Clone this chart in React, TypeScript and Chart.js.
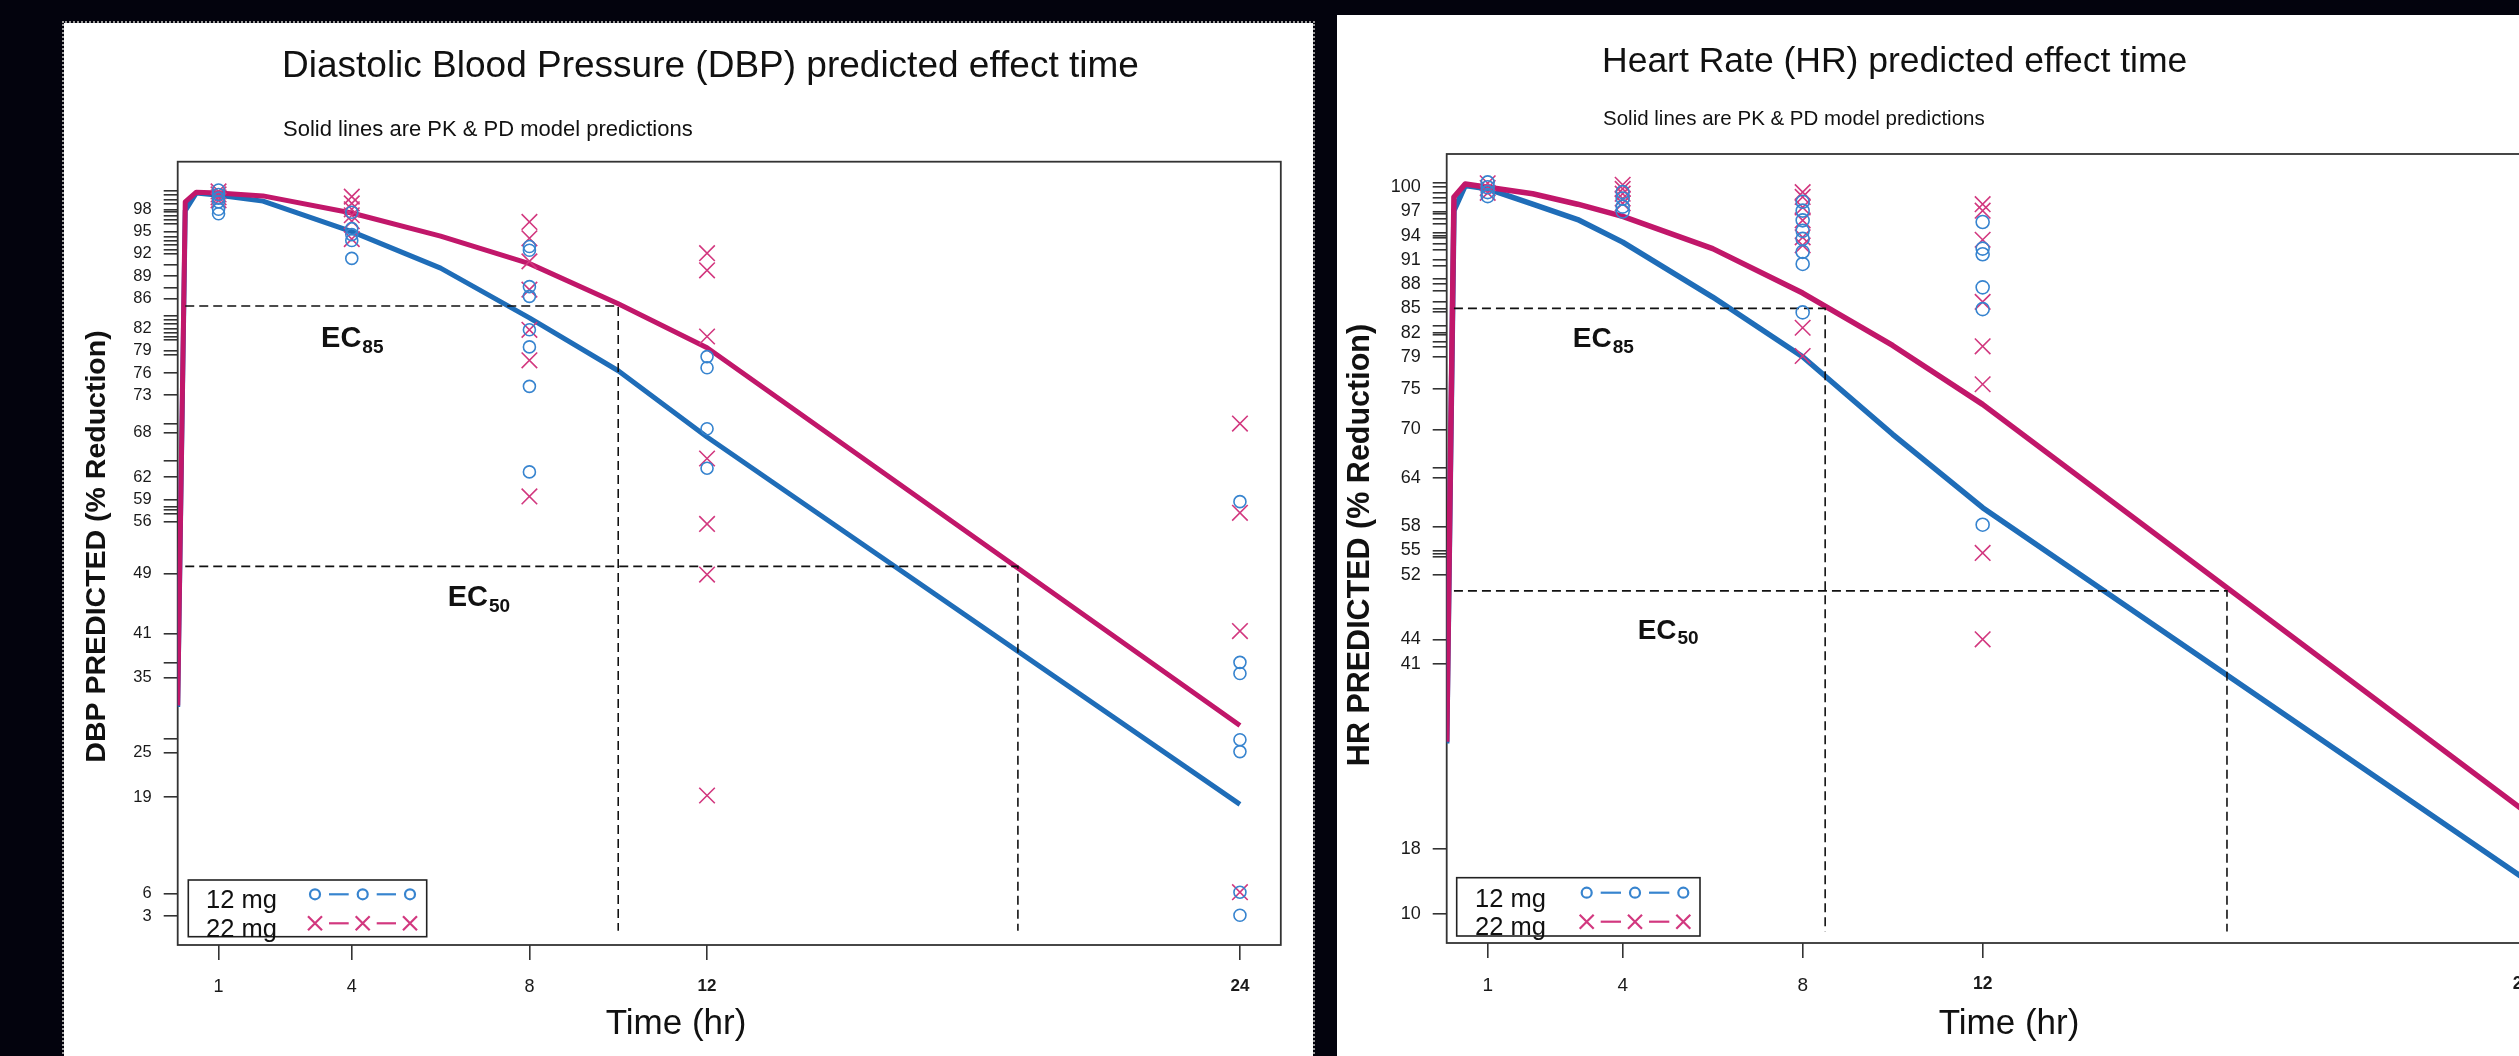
import React, { useEffect, useRef } from 'react';
import { Chart, registerables } from 'chart.js';

Chart.register(...registerables);

const FONT = '"Liberation Sans", Arial, Helvetica, sans-serif';
const BLUE_LINE = '#1f6db8';
const MAG_LINE = '#c1176a';
const BLUE_PT = '#3784cf';
const MAG_PT = '#d2387f';

// ---------- shared ----------
const doseLabels = ['12 mg', '22 mg'];
const xTickValues = [1, 4, 8, 12, 24];
const ecLevels = [85, 50];
const ecSubscripts = ['85', '50'];
const ecStartTime = 0.25;

// ---------- DBP panel ----------
const dbpTitle = 'Diastolic Blood Pressure (DBP) predicted effect time';
const dbpSubtitle = 'Solid lines are PK & PD model predictions';
const dbpYTitle = 'DBP PREDICTED (% Reduction)';
const dbpXTitle = 'Time (hr)';
const dbpLineTimes = [0.08, 0.25, 0.5, 1, 2, 4, 6, 8, 10, 12, 24];
const dbpLine12 = [31.1, 97.8, 100.2, 99.9, 99.1, 95.0, 90.1, 83.4, 76.3, 67.4, 18.0];
const dbpLine22 = [31.3, 99.0, 100.3, 100.2, 99.8, 97.5, 94.4, 90.7, 85.3, 79.4, 28.6];
const dbpObs12T = [1, 1, 1, 1, 1, 1, 4, 4, 4, 4, 4, 8, 8, 8, 8, 8, 8, 8, 8, 12, 12, 12, 12, 24, 24, 24, 24, 24, 24, 24];
const dbpObs12Y = [100.6, 100.0, 99.5, 99.0, 98.0, 97.4, 97.6, 95.4, 94.6, 93.8, 91.4, 93.0, 92.5, 87.6, 86.3, 81.8, 79.5, 74.2, 62.7, 78.2, 76.7, 68.5, 63.2, 58.7, 37.1, 35.6, 26.7, 25.1, 6.2, 3.1];
const dbpObs22T = [1, 1, 1, 1, 4, 4, 4, 4, 4, 4, 8, 8, 8, 8, 8, 8, 8, 12, 12, 12, 12, 12, 12, 12, 24, 24, 24, 24];
const dbpObs22Y = [100.4, 100.0, 99.6, 99.2, 99.7, 98.8, 98.0, 97.2, 96.4, 94.0, 96.3, 94.1, 91.0, 87.2, 81.8, 77.7, 59.4, 92.1, 89.8, 80.9, 64.5, 55.7, 48.9, 19.2, 69.2, 57.2, 41.3, 6.2];
const dbpYLabelTicks = [98, 95, 92, 89, 86, 82, 79, 76, 73, 68, 62, 59, 56, 49, 41, 35, 25, 19, 6, 3];
const dbpYMinorTicks = [100.5, 99.9, 99.3, 98.8, 97.7, 97.1, 96.6, 96.1, 94.3, 93.8, 93.2, 92.6, 90.5, 87.4, 83.7, 83.1, 82.6, 81.4, 80.9, 80.4, 78.4, 69.2, 64.2, 58.0, 57.6, 57.0, 37.0, 26.8];
const dbpEcTimes = [10, 19];
const dbpEcFloor = 1;
const dbpEcLabelX = [4.0, 6.85];
const dbpEcLabelY = [79.5, 44.7];
const dbpXRange = [0.08, 24.92];
const dbpYRange = [-0.9, 104.4];

// ---------- HR panel ----------
const hrTitle = 'Heart Rate (HR) predicted effect time';
const hrSubtitle = 'Solid lines are PK & PD model predictions';
const hrYTitle = 'HR PREDICTED (% Reduction)';
const hrXTitle = 'Time (hr)';
const hrLineTimes = [0.089, 0.25, 0.5, 1, 2, 3, 4, 6, 8, 10, 12, 24];
const hrLine12 = [31.1, 97.1, 100.2, 99.8, 97.9, 96.0, 93.2, 86.4, 79.0, 69.4, 60.3, 14.5];
const hrLine22 = [31.3, 98.8, 100.4, 100.0, 99.2, 97.9, 96.4, 92.4, 86.9, 80.4, 73.1, 22.9];
const hrObs12T = [1, 1, 1, 1, 4, 4, 4, 4, 8, 8, 8, 8, 8, 8, 8, 8, 12, 12, 12, 12, 12, 12];
const hrObs12Y = [100.6, 100.0, 99.4, 98.9, 99.4, 98.6, 97.6, 97.0, 98.2, 97.1, 95.9, 94.6, 93.6, 92.0, 90.5, 84.5, 95.7, 92.4, 91.7, 87.6, 84.9, 58.2];
const hrObs22T = [1, 1, 1, 4, 4, 4, 4, 4, 8, 8, 8, 8, 8, 8, 8, 8, 12, 12, 12, 12, 12, 12, 12, 12];
const hrObs22Y = [100.5, 99.9, 99.3, 100.3, 99.8, 99.2, 98.6, 98.0, 99.4, 98.8, 97.5, 95.9, 93.8, 92.8, 82.6, 79.1, 97.9, 97.1, 93.5, 85.8, 80.3, 75.6, 54.7, 44.0];
const hrYLabelTicks = [100, 97, 94, 91, 88, 85, 82, 79, 75, 70, 64, 58, 55, 52, 44, 41, 18, 10];
const hrYMinorTicks = [100.5, 99.3, 98.7, 98.1, 96.7, 96.1, 95.5, 94.3, 93.8, 93.0, 92.3, 90.3, 88.7, 87.2, 85.8, 84.6, 82.8, 81.7, 80.8, 80.2, 65.2, 54.6, 54.2];
const hrEcTimes = [8.5, 17.43];
const hrEcFloor = 7.8;
const hrEcLabelX = [3.56, 5.0];
const hrEcLabelY = [80.2, 44.1];
const hrXRange = [0.089, 24.92];
const hrYRange = [6.38, 104.12];

// ---------- geometry ----------
const dbpGeom = {
  left: 64, top: 23, width: 1249, height: 1033, outline: true,
  area: { left: 113.7, right: 1216.8, top: 138.7, bottom: 922 },
  title: { x: 218, y: 54.3, size: 37 },
  subtitle: { x: 219, y: 113, size: 22 },
  yTitle: { x: 33, y: 523.5, size: 28.5 },
  xTitle: { x: 612, y: 1011, size: 35 },
  yTickSize: 16.5, xTickSize: 18, xTickBoldSize: 17,
  legend: { dx: 10.6, dyBottom: 8.3, w: 238.4, h: 56.7, textX: 17.7, row1: 28.3, row2: 56.7, font: 25.5, symX: [126.7, 174.4, 221.7], symY: [14.3, 43.3] },
  ec: { size: 29, subSize: 19, subDrop: 6 },
  lineWidth: 5, circleR: 6, crossR: 11,
};

const hrGeom = {
  left: 1337, top: 15, width: 1263, height: 1041, outline: false,
  area: { left: 109.7, right: 1227, top: 139, bottom: 928 },
  title: { x: 265, y: 56.7, size: 35.5 },
  subtitle: { x: 266, y: 109.5, size: 20.5 },
  yTitle: { x: 24, y: 530, size: 30.5 },
  xTitle: { x: 672, y: 1019, size: 35 },
  yTickSize: 18, xTickSize: 19, xTickBoldSize: 17.5,
  legend: { dx: 10, dyBottom: 7, w: 243.3, h: 58.3, textX: 18.3, row1: 29, row2: 57.3, font: 25.5, symX: [130, 178.3, 226.6], symY: [15, 44] },
  ec: { size: 28, subSize: 19, subDrop: 5.5 },
  lineWidth: 5.5, circleR: 6.5, crossR: 11,
};

type PanelSpec = {
  key: string; title: string; subtitle: string; yTitle: string; xTitle: string;
  lineTimes: number[]; line12: number[]; line22: number[];
  obs12T: number[]; obs12Y: number[]; obs22T: number[]; obs22Y: number[];
  yLabelTicks: number[]; yMinorTicks: number[];
  ecTimes: number[]; ecFloor: number; ecLabelX: number[]; ecLabelY: number[];
  xRange: number[]; yRange: number[]; geom: any;
};

const panels: PanelSpec[] = [
  {
    key: 'dbp', title: dbpTitle, subtitle: dbpSubtitle, yTitle: dbpYTitle, xTitle: dbpXTitle,
    lineTimes: dbpLineTimes, line12: dbpLine12, line22: dbpLine22,
    obs12T: dbpObs12T, obs12Y: dbpObs12Y, obs22T: dbpObs22T, obs22Y: dbpObs22Y,
    yLabelTicks: dbpYLabelTicks, yMinorTicks: dbpYMinorTicks,
    ecTimes: dbpEcTimes, ecFloor: dbpEcFloor, ecLabelX: dbpEcLabelX, ecLabelY: dbpEcLabelY,
    xRange: dbpXRange, yRange: dbpYRange, geom: dbpGeom,
  },
  {
    key: 'hr', title: hrTitle, subtitle: hrSubtitle, yTitle: hrYTitle, xTitle: hrXTitle,
    lineTimes: hrLineTimes, line12: hrLine12, line22: hrLine22,
    obs12T: hrObs12T, obs12Y: hrObs12Y, obs22T: hrObs22T, obs22Y: hrObs22Y,
    yLabelTicks: hrYLabelTicks, yMinorTicks: hrYMinorTicks,
    ecTimes: hrEcTimes, ecFloor: hrEcFloor, ecLabelX: hrEcLabelX, ecLabelY: hrEcLabelY,
    xRange: hrXRange, yRange: hrYRange, geom: hrGeom,
  },
];

const zip = (xs: number[], ys: number[]) => xs.map((x, i) => ({ x, y: ys[i] }));

function makeDecor(spec: PanelSpec) {
  const g = spec.geom;
  return {
    id: 'decor_' + spec.key,
    beforeDatasetsDraw(chart: any) {
      const { ctx, chartArea: a } = chart;
      ctx.save();
      ctx.strokeStyle = '#333';
      ctx.lineWidth = 1.8;
      ctx.strokeRect(a.left, a.top, a.right - a.left, a.bottom - a.top);
      ctx.restore();
    },
    afterDatasetsDraw(chart: any) {
      const { ctx, chartArea: a } = chart;
      const xs = chart.scales.x;
      const ys = chart.scales.y;
      ctx.save();
      // EC labels
      ecLevels.forEach((_, i) => {
        const cx = xs.getPixelForValue(spec.ecLabelX[i]);
        const by = ys.getPixelForValue(spec.ecLabelY[i]);
        ctx.fillStyle = '#111';
        ctx.textBaseline = 'alphabetic';
        ctx.textAlign = 'left';
        ctx.font = `bold ${g.ec.size}px ${FONT}`;
        const w1 = ctx.measureText('EC').width;
        ctx.font = `bold ${g.ec.subSize}px ${FONT}`;
        const w2 = ctx.measureText(ecSubscripts[i]).width;
        const x0 = cx - (w1 + w2) / 2;
        ctx.font = `bold ${g.ec.size}px ${FONT}`;
        ctx.fillText('EC', x0, by);
        ctx.font = `bold ${g.ec.subSize}px ${FONT}`;
        ctx.fillText(ecSubscripts[i], x0 + w1 + 1, by + g.ec.subDrop);
      });
      // legend
      const L = g.legend;
      const bx = a.left + L.dx;
      const by = a.bottom - L.dyBottom - L.h;
      ctx.fillStyle = '#fff';
      ctx.fillRect(bx, by, L.w, L.h);
      ctx.strokeStyle = '#222';
      ctx.lineWidth = 1.6;
      ctx.strokeRect(bx, by, L.w, L.h);
      ctx.fillStyle = '#111';
      ctx.font = `${L.font}px ${FONT}`;
      ctx.textAlign = 'left';
      ctx.textBaseline = 'alphabetic';
      ctx.fillText(doseLabels[0], bx + L.textX, by + L.row1);
      ctx.fillText(doseLabels[1], bx + L.textX, by + L.row2);
      [0, 1].forEach((r) => {
        const yy = by + L.symY[r];
        ctx.strokeStyle = r === 0 ? BLUE_PT : MAG_PT;
        ctx.lineWidth = 2.2;
        for (let k = 0; k < L.symX.length - 1; k++) {
          ctx.beginPath();
          ctx.moveTo(bx + L.symX[k] + 14, yy);
          ctx.lineTo(bx + L.symX[k + 1] - 14, yy);
          ctx.stroke();
        }
        L.symX.forEach((sx: number) => {
          const cx = bx + sx;
          ctx.beginPath();
          if (r === 0) {
            ctx.arc(cx, yy, 5, 0, Math.PI * 2);
          } else {
            ctx.moveTo(cx - 7, yy - 7); ctx.lineTo(cx + 7, yy + 7);
            ctx.moveTo(cx - 7, yy + 7); ctx.lineTo(cx + 7, yy - 7);
          }
          ctx.stroke();
        });
      });
      ctx.restore();
    },
    afterDraw(chart: any) {
      const { ctx } = chart;
      ctx.save();
      ctx.fillStyle = '#111';
      ctx.textAlign = 'left';
      ctx.textBaseline = 'alphabetic';
      ctx.font = `${g.title.size}px ${FONT}`;
      ctx.fillText(spec.title, g.title.x, g.title.y);
      ctx.font = `${g.subtitle.size}px ${FONT}`;
      ctx.fillText(spec.subtitle, g.subtitle.x, g.subtitle.y);
      ctx.textAlign = 'center';
      ctx.font = `${g.xTitle.size}px ${FONT}`;
      ctx.fillText(spec.xTitle, g.xTitle.x, g.xTitle.y);
      ctx.translate(g.yTitle.x, g.yTitle.y);
      ctx.rotate(-Math.PI / 2);
      ctx.textBaseline = 'middle';
      ctx.font = `bold ${g.yTitle.size}px ${FONT}`;
      ctx.fillText(spec.yTitle, 0, 0);
      ctx.restore();
    },
  };
}

function buildConfig(spec: PanelSpec): any {
  const g = spec.geom;
  const labelSet = new Set(spec.yLabelTicks);
  const allY = [...spec.yLabelTicks, ...spec.yMinorTicks].sort((a, b) => a - b);
  const ecData = (i: number) => [
    { x: ecStartTime, y: ecLevels[i] },
    { x: spec.ecTimes[i], y: ecLevels[i] },
    { x: spec.ecTimes[i], y: spec.ecFloor },
  ];
  const datasets: any[] = [
    {
      label: doseLabels[0] + ' obs', data: zip(spec.obs12T, spec.obs12Y), showLine: false,
      pointStyle: 'circle', pointRadius: g.circleR, pointBorderWidth: 1.6,
      pointBorderColor: BLUE_PT, pointBackgroundColor: 'rgba(0,0,0,0)', order: 0,
    },
    {
      label: doseLabels[1] + ' obs', data: zip(spec.obs22T, spec.obs22Y), showLine: false,
      pointStyle: 'crossRot', pointRadius: g.crossR, pointBorderWidth: 1.6,
      pointBorderColor: MAG_PT, pointBackgroundColor: 'rgba(0,0,0,0)', order: 1,
    },
    ...ecLevels.map((_, i) => ({
      label: 'EC' + ecSubscripts[i], data: ecData(i), showLine: true, pointRadius: 0,
      borderColor: '#111', borderWidth: 1.6, borderDash: [9, 5], order: 2, clip: 0,
    })),
    {
      label: doseLabels[1] + ' model', data: zip(spec.lineTimes, spec.line22), showLine: true,
      pointRadius: 0, borderColor: MAG_LINE, borderWidth: g.lineWidth, tension: 0,
      borderJoinStyle: 'round', borderCapStyle: 'butt', order: 3, clip: 0,
    },
    {
      label: doseLabels[0] + ' model', data: zip(spec.lineTimes, spec.line12), showLine: true,
      pointRadius: 0, borderColor: BLUE_LINE, borderWidth: g.lineWidth, tension: 0,
      borderJoinStyle: 'round', borderCapStyle: 'butt', order: 4, clip: 0,
    },
  ];
  return {
    type: 'scatter',
    data: { datasets },
    options: {
      animation: false,
      responsive: false,
      maintainAspectRatio: false,
      devicePixelRatio: 1,
      events: [],
      layout: { padding: { left: 0, top: g.area.top, right: g.width - g.area.right, bottom: 0 } },
      plugins: { legend: { display: false }, tooltip: { enabled: false }, title: { display: false } },
      scales: {
        x: {
          type: 'linear', min: spec.xRange[0], max: spec.xRange[1],
          border: { display: false },
          grid: { display: true, drawOnChartArea: false, drawTicks: true, tickLength: 15, color: '#333', lineWidth: 1.6 },
          ticks: {
            autoSkip: false, maxRotation: 0, minRotation: 0, padding: 16, color: '#1a1a1a',
            font: (c: any) => {
              const big = c.tick && c.tick.value >= 12;
              return { family: FONT, size: big ? g.xTickBoldSize : g.xTickSize, weight: big ? 'bold' : 'normal' };
            },
            callback: (v: any) => String(v),
          },
          afterBuildTicks: (s: any) => { s.ticks = xTickValues.map((v) => ({ value: v })); },
          afterFit: (s: any) => { s.height = g.height - g.area.bottom; },
        },
        y: {
          type: 'linear', min: spec.yRange[0], max: spec.yRange[1],
          border: { display: false },
          grid: { display: true, drawOnChartArea: false, drawTicks: true, tickLength: 14, color: '#333', lineWidth: 1.6 },
          ticks: {
            autoSkip: false, padding: 12, color: '#1a1a1a',
            font: { family: FONT, size: g.yTickSize },
            callback: (v: any) => (labelSet.has(v) ? String(v) : ''),
          },
          afterBuildTicks: (s: any) => { s.ticks = allY.map((v) => ({ value: v })); },
          afterFit: (s: any) => { s.width = g.area.left; },
        },
      },
    },
    plugins: [makeDecor(spec)],
  };
}

function Panel({ spec }: { spec: PanelSpec }) {
  const ref = useRef<HTMLCanvasElement | null>(null);
  useEffect(() => {
    if (!ref.current) return;
    const chart = new Chart(ref.current, buildConfig(spec));
    return () => chart.destroy();
  }, [spec]);
  const g = spec.geom;
  return (
    <div
      style={{
        position: 'absolute', left: g.left, top: g.top, width: g.width, height: g.height,
        background: '#ffffff', outline: g.outline ? '2px dotted #9a9a9a' : 'none',
      }}
    >
      <canvas ref={ref} width={g.width} height={g.height} style={{ display: 'block', width: g.width, height: g.height }} />
    </div>
  );
}

export default function App() {
  return (
    <div
      style={{
        position: 'fixed', left: 0, top: 0, width: 2519, height: 1056,
        background: '#03030d', overflow: 'hidden',
      }}
    >
      {panels.map((p) => (
        <Panel key={p.key} spec={p} />
      ))}
    </div>
  );
}
